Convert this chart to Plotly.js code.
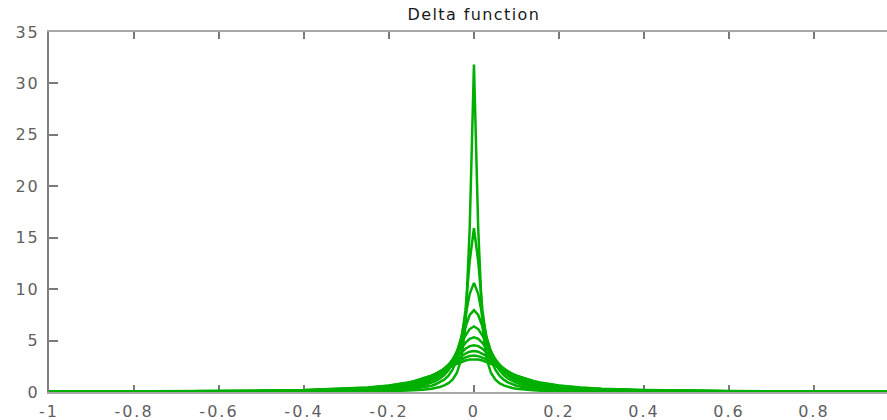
<!DOCTYPE html>
<html>
<head>
<meta charset="utf-8">
<script src="https://cdn.plot.ly/plotly-3.0.1.min.js"></script>
<style>
  html, body { margin: 0; padding: 0; background: #fff; }
  #chart { width: 887px; height: 420px; }
  .xtick text, .ytick text { letter-spacing: 2px; }
  .gtitle { letter-spacing: 1.4px; }
</style>
</head>
<body>
<div id="chart"></div>
<script>
// x sample positions
const xValues = [-1, -0.8, -0.6, -0.5, -0.4, -0.3, -0.25, -0.2, -0.18, -0.16, -0.14, -0.12, -0.1, -0.09, -0.08, -0.07, -0.06, -0.05, -0.04, -0.03, -0.02, -0.01,
  0,
  0.01, 0.02, 0.03, 0.04, 0.05, 0.06, 0.07, 0.08, 0.09, 0.1, 0.12, 0.14, 0.16, 0.18, 0.2, 0.25, 0.3, 0.4, 0.5, 0.6, 0.8, 1];

// one curve per width (narrowest first)
const curve1 = [0.003, 0.005, 0.009, 0.013, 0.02, 0.035, 0.05, 0.08, 0.10, 0.12, 0.16, 0.22, 0.32, 0.39, 0.49, 0.64, 0.86, 1.22, 1.87, 3.18, 6.37, 15.92,
  31.83,
  15.92, 6.37, 3.18, 1.87, 1.22, 0.86, 0.64, 0.49, 0.39, 0.32, 0.22, 0.16, 0.12, 0.10, 0.08, 0.05, 0.035, 0.02, 0.013, 0.009, 0.005, 0.003];
const curve2 = [0.006, 0.010, 0.018, 0.025, 0.04, 0.07, 0.10, 0.16, 0.19, 0.24, 0.32, 0.43, 0.61, 0.75, 0.94, 1.20, 1.59, 2.20, 3.18, 4.90, 7.96, 12.73,
  15.92,
  12.73, 7.96, 4.90, 3.18, 2.20, 1.59, 1.20, 0.94, 0.75, 0.61, 0.43, 0.32, 0.24, 0.19, 0.16, 0.10, 0.07, 0.04, 0.025, 0.018, 0.010, 0.006];
const curve3 = [0.0095, 0.015, 0.026, 0.038, 0.059, 0.105, 0.15, 0.23, 0.29, 0.36, 0.47, 0.62, 0.88, 1.06, 1.31, 1.65, 2.12, 2.81, 3.82, 5.31, 7.35, 9.55,
  10.61,
  9.55, 7.35, 5.31, 3.82, 2.81, 2.12, 1.65, 1.31, 1.06, 0.88, 0.62, 0.47, 0.36, 0.29, 0.23, 0.15, 0.105, 0.059, 0.038, 0.026, 0.015, 0.0095];
const curve4 = [0.0127, 0.020, 0.035, 0.051, 0.079, 0.14, 0.20, 0.31, 0.37, 0.47, 0.60, 0.80, 1.10, 1.31, 1.59, 1.96, 2.45, 3.11, 3.98, 5.09, 6.37, 7.49,
  7.96,
  7.49, 6.37, 5.09, 3.98, 3.11, 2.45, 1.96, 1.59, 1.31, 1.10, 0.80, 0.60, 0.47, 0.37, 0.31, 0.20, 0.14, 0.079, 0.051, 0.035, 0.020, 0.0127];
const curve5 = [0.016, 0.025, 0.044, 0.063, 0.098, 0.17, 0.24, 0.37, 0.46, 0.57, 0.72, 0.94, 1.27, 1.50, 1.79, 2.15, 2.61, 3.18, 3.88, 4.68, 5.49, 6.12,
  6.37,
  6.12, 5.49, 4.68, 3.88, 3.18, 2.61, 2.15, 1.79, 1.50, 1.27, 0.94, 0.72, 0.57, 0.46, 0.37, 0.24, 0.17, 0.098, 0.063, 0.044, 0.025, 0.016];
const curve6 = [0.019, 0.030, 0.053, 0.075, 0.117, 0.20, 0.29, 0.44, 0.53, 0.65, 0.82, 1.06, 1.40, 1.63, 1.91, 2.25, 2.65, 3.13, 3.67, 4.24, 4.77, 5.16,
  5.31,
  5.16, 4.77, 4.24, 3.67, 3.13, 2.65, 2.25, 1.91, 1.63, 1.40, 1.06, 0.82, 0.65, 0.53, 0.44, 0.29, 0.20, 0.117, 0.075, 0.053, 0.030, 0.019];
const curve7 = [0.022, 0.035, 0.061, 0.087, 0.135, 0.23, 0.33, 0.50, 0.60, 0.73, 0.91, 1.15, 1.50, 1.71, 1.97, 2.27, 2.62, 3.01, 3.43, 3.84, 4.20, 4.46,
  4.55,
  4.46, 4.20, 3.84, 3.43, 3.01, 2.62, 2.27, 1.97, 1.71, 1.50, 1.15, 0.91, 0.73, 0.60, 0.50, 0.33, 0.23, 0.135, 0.087, 0.061, 0.035, 0.022];
const curve8 = [0.025, 0.039, 0.070, 0.099, 0.153, 0.26, 0.37, 0.55, 0.66, 0.80, 0.98, 1.22, 1.55, 1.76, 1.99, 2.25, 2.55, 2.86, 3.18, 3.49, 3.74, 3.92,
  3.98,
  3.92, 3.74, 3.49, 3.18, 2.86, 2.55, 2.25, 1.99, 1.76, 1.55, 1.22, 0.98, 0.80, 0.66, 0.55, 0.37, 0.26, 0.153, 0.099, 0.070, 0.039, 0.025];
const curve9 = [0.028, 0.044, 0.078, 0.111, 0.170, 0.29, 0.41, 0.60, 0.71, 0.85, 1.03, 1.27, 1.58, 1.77, 1.98, 2.20, 2.45, 2.70, 2.95, 3.18, 3.37, 3.49,
  3.54,
  3.49, 3.37, 3.18, 2.95, 2.70, 2.45, 2.20, 1.98, 1.77, 1.58, 1.27, 1.03, 0.85, 0.71, 0.60, 0.41, 0.29, 0.170, 0.111, 0.078, 0.044, 0.028];
const curve10 = [0.032, 0.049, 0.086, 0.122, 0.187, 0.32, 0.44, 0.64, 0.75, 0.89, 1.08, 1.30, 1.59, 1.76, 1.94, 2.14, 2.34, 2.55, 2.74, 2.92, 3.06, 3.15,
  3.18,
  3.15, 3.06, 2.92, 2.74, 2.55, 2.34, 2.14, 1.94, 1.76, 1.59, 1.30, 1.08, 0.89, 0.75, 0.64, 0.44, 0.32, 0.187, 0.122, 0.086, 0.049, 0.032];

const curves = [curve1, curve2, curve3, curve4, curve5, curve6, curve7, curve8, curve9, curve10];

// ticks
const xTickVals = [-1, -0.8, -0.6, -0.4, -0.2, 0, 0.2, 0.4, 0.6, 0.8, 1];
const xTickText = ['-1', '-0.8', '-0.6', '-0.4', '-0.2', '0', '0.2', '0.4', '0.6', '0.8', '1'];
const yTickVals = [0, 5, 10, 15, 20, 25, 30, 35];
const yTickText = ['0', '5', '10', '15', '20', '25', '30', '35'];

const traces = curves.map(function (ys) {
  return {
    x: xValues,
    y: ys,
    type: 'scatter',
    mode: 'lines',
    line: { color: 'rgb(0,176,0)', width: 2.5 },
    cliponaxis: false,
    hoverinfo: 'skip',
    showlegend: false
  };
});

const tickFont = { family: 'DejaVu Sans, Arial, sans-serif', size: 16, color: '#606060' };

const layout = {
  width: 887,
  height: 420,
  margin: { l: 49, r: 0, t: 32, b: 28, pad: 0 },
  paper_bgcolor: '#ffffff',
  plot_bgcolor: '#ffffff',
  showlegend: false,
  title: {
    text: 'Delta function',
    font: { family: 'DejaVu Sans, Arial, sans-serif', size: 16, color: '#1a1a1a' },
    xref: 'paper', x: 0.507, xanchor: 'center',
    yref: 'container', y: 0.965, yanchor: 'middle'
  },
  xaxis: {
    range: [-1, 0.972],
    tickmode: 'array',
    tickvals: xTickVals,
    ticktext: xTickText,
    ticks: 'inside',
    ticklen: 7,
    tickwidth: 2,
    tickcolor: '#7a7a7a',
    showline: true,
    linecolor: '#a8a8a8',
    linewidth: 2,
    mirror: 'ticks',
    showgrid: false,
    zeroline: false,
    layer: 'below traces',
    tickfont: tickFont,
    ticklabelstandoff: 4
  },
  yaxis: {
    range: [0, 35],
    tickmode: 'array',
    tickvals: yTickVals,
    ticktext: yTickText,
    ticks: 'inside',
    ticklen: 9,
    tickwidth: 2,
    tickcolor: '#7a7a7a',
    showline: true,
    linecolor: '#808080',
    linewidth: 2,
    mirror: false,
    showgrid: false,
    zeroline: false,
    layer: 'below traces',
    tickfont: tickFont,
    ticklabelstandoff: 4
  }
};

Plotly.newPlot('chart', traces, layout, { displayModeBar: false, staticPlot: true });
</script>
</body>
</html>
